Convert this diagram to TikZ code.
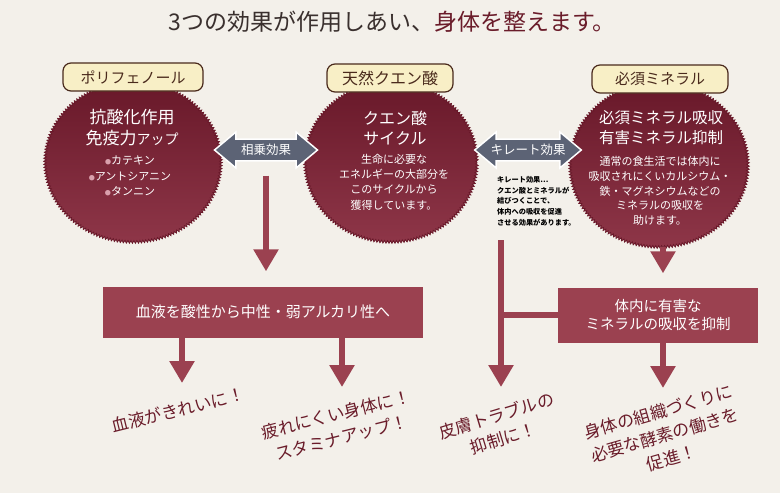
\documentclass[tikz,border=0pt]{standalone}
\usepackage{fontspec}
\setmainfont{Noto Sans CJK JP}
\usetikzlibrary{shapes.geometric,shapes.arrows,arrows.meta,decorations.pathmorphing}

\definecolor{paper}{HTML}{F3F0EA}
\definecolor{wine}{HTML}{681829}
\definecolor{winelight}{HTML}{8E3648}
\definecolor{rose}{HTML}{9B4150}
\definecolor{cream}{HTML}{F8EFC6}
\definecolor{labeledge}{HTML}{4A2A1C}
\definecolor{slate}{HTML}{5C6375}
\definecolor{inkred}{HTML}{6A1C2A}
\definecolor{titleink}{HTML}{3A302E}
\definecolor{dotpink}{HTML}{D9A0AC}

\newcommand{\dotmark}{\textcolor{dotpink}{\scalebox{0.55}{●}}}

\tikzset{
  blob/.style={ellipse, inner sep=0pt, top color=wine, bottom color=winelight, draw=wine, line width=0.8pt,
    decorate, decoration={zigzag, segment length=3pt, amplitude=1.3pt}},
  tag/.style={rectangle, rounded corners=8pt, fill=cream, draw=labeledge, line width=1.2pt,
    minimum height=28pt, inner sep=0pt, text=labeledge, font=\fontsize{15}{15}\selectfont},
  twin/.style={double arrow, fill=slate, draw=white, line width=1.5pt, text=white,
    double arrow head extend=5.5pt, double arrow tip angle=80, minimum height=103pt,
    minimum width=36pt, inner sep=2pt, font=\fontsize{12.5}{12.5}\selectfont},
  bigtxt/.style={text=white, align=center, inner sep=0pt},
  smalltxt/.style={text=white, align=center, inner sep=0pt, font=\fontsize{11}{15.3}\selectfont},
  band/.style={rectangle, fill=rose, text=white, align=center, inner sep=0pt},
  outtxt/.style={text=inkred, align=center, inner sep=0pt, font=\fontsize{17}{24}\selectfont},
  flow/.style={draw=rose, line width=6.5pt, -{Triangle[width=24pt,length=22pt]}},
  pipe/.style={draw=rose, line width=6.5pt}
}

\begin{document}
\begin{tikzpicture}[x=1pt, y=-1pt]
  % Paper
  \fill[paper] (0,0) rectangle (780,493);
  \useasboundingbox (0,0) rectangle (780,493);

  % Title
  \node[font=\fontsize{23}{23}\selectfont, text=titleink] (title) at (392,22)
    {3つの効果が作用しあい、\textcolor{inkred}{身体を整えます。}};

  % Circles
  \node[blob, minimum width=176pt, minimum height=160pt] (poly) at (133,162) {};
  \node[blob, minimum width=172pt, minimum height=160pt] (citric) at (391,162) {};
  \node[blob, minimum width=178pt, minimum height=164pt] (minc) at (659,165) {};

  % Labels on top
  \node[tag, minimum width=140pt] (polytag) at (133,77) {ポリフェノール};
  \node[tag, minimum width=126pt, font=\fontsize{16}{16}\selectfont] (citrictag) at (390,78) {天然クエン酸};
  \node[tag, minimum width=136pt] (mintag) at (660,79) {必須ミネラル};

  % Circle texts
  \node[bigtxt, font=\fontsize{17}{21}\selectfont] (polyhead) at (132,128)
    {抗酸化作用\\免疫力{\fontsize{14}{14}\selectfont アップ}};
  \node[smalltxt] (polybody) at (130,176)
    {\dotmark カテキン\\\dotmark アントシアニン\\\dotmark タンニン};
  \node[bigtxt, font=\fontsize{16}{20}\selectfont] (citrichead) at (395,128) {クエン酸\\サイクル};
  \node[smalltxt] (citricbody) at (394,182)
    {生命に必要な\\エネルギーの大部分を\\このサイクルから\\獲得しています。};
  \node[bigtxt, font=\fontsize{15.5}{20}\selectfont] (minhead) at (661,128)
    {必須ミネラル吸収\\有害ミネラル抑制};
  \node[smalltxt, font=\fontsize{11}{14.6}\selectfont] (minbody) at (660,191)
    {通常の食生活では体内に\\吸収されにくいカルシウム・\\鉄・マグネシウムなどの\\ミネラルの吸収を\\助けます。};

  % Double arrows
  \node[twin] (syn) at (266,150) {相乗効果};
  \node[twin] (chel) at (528,150) {キレート効果};

  % Note under the chelate arrow
  \node[anchor=north west, align=left, inner sep=0pt, font=\fontsize{7.2}{10.7}\selectfont\bfseries] (note) at (497,176)
    {キレート効果…\\クエン酸とミネラルが\\結びつくことで、\\体内への吸収を促進\\させる効果があります。};

  % Bands
  \node[band, minimum width=320pt, minimum height=51pt, font=\fontsize{15}{19}\selectfont] (blood) at (263,312)
    {血液を酸性から中性・弱アルカリ性へ};
  \node[band, minimum width=200pt, minimum height=55pt, font=\fontsize{14.5}{18}\selectfont] (mineral) at (658,315)
    {体内に有害な\\ミネラルの吸収を抑制};

  % Arrow ends
  \coordinate (clean) at (182,383);
  \coordinate (stamina) at (342,387);
  \coordinate (skin) at (501,387);
  \coordinate (enzyme) at (663,388);

  % Connectors
  \draw[flow, shorten <=14pt, shorten >=15pt] (syn.south) -- (syn.south |- blood.north);
  \draw[flow] (blood.south -| clean) -- (clean);
  \draw[flow] (blood.south -| stamina) -- (stamina);
  \draw[flow, shorten <=14pt] (note.south -| skin) -- (skin);
  \draw[pipe] (mineral.west) -- (mineral.west -| skin);
  \draw[flow, shorten >=14pt] (minc.south -| enzyme) -- (mineral.north -| enzyme);
  \draw[flow] (mineral.south -| enzyme) -- (enzyme);

  % Results
  \node[outtxt, rotate=14] (cleantxt) at (178,410) {血液がきれいに！};
  \node[outtxt, rotate=14] (staminatxt) at (339,426) {疲れにくい身体に！\\スタミナアップ！};
  \node[outtxt, rotate=17] (skintxt) at (500,427) {皮膚トラブルの\\抑制に！};
  \node[outtxt, rotate=16] (enzymetxt) at (665,435) {身体の組織づくりに\\必要な酵素の働きを\\促進！};
\end{tikzpicture}
\end{document}
